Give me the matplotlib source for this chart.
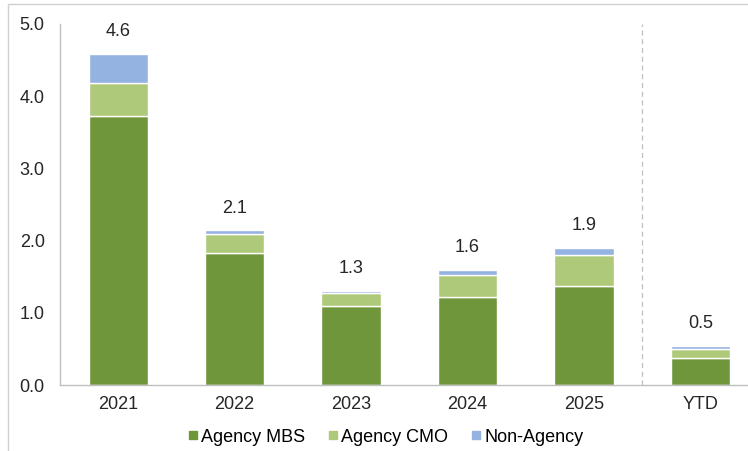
import numpy as np
import matplotlib.pyplot as plt
from matplotlib.lines import Line2D
from matplotlib.patches import Rectangle

# data
categories = ["2021", "2022", "2023", "2024", "2025", "YTD"]
agency_mbs = [3.72, 1.83, 1.09, 1.22, 1.37, 0.37]
agency_cmo = [0.46, 0.26, 0.18, 0.30, 0.43, 0.13]
non_agency = [0.40, 0.05, 0.03, 0.07, 0.10, 0.04]
total_labels = ["4.6", "2.1", "1.3", "1.6", "1.9", "0.5"]

series_names = ["Agency MBS", "Agency CMO", "Non-Agency"]
colours = ["#70963C", "#AFC97A", "#95B3E0"]

plt.rcParams['font.family'] = ['Liberation Sans', 'DejaVu Sans']
fs = 13

fig = plt.figure(figsize=(7.48, 4.51), dpi=100)
ax = fig.add_axes([0.0802, 0.1463, 0.9198, 0.8005])

x = np.arange(len(categories))
bottom = np.zeros(len(categories))
for vals, col in zip([agency_mbs, agency_cmo, non_agency], colours):
    ax.bar(x, vals, width=0.51, bottom=bottom, color=col,
           edgecolor='white', linewidth=1.0, zorder=2)
    bottom += np.array(vals)

for xi, top, lab in zip(x, bottom, total_labels):
    ax.annotate(lab, (xi, top), xytext=(0, 10), textcoords='offset points',
                ha='center', va='bottom', fontsize=fs, color='#262626')

# dashed separator before YTD
ax.axvline(4.5, color='#BFBFBF', linestyle=(0, (4, 3)), linewidth=0.9, zorder=1)

ax.set_xlim(-0.5, 5.41)
ax.set_ylim(0, 5.0)
ax.set_yticks(np.arange(0, 5.01, 1.0))
ax.set_yticklabels(["{:.1f}".format(v) for v in np.arange(0, 5.01, 1.0)])
ax.set_xticks(x)
ax.set_xticklabels(categories)
ax.tick_params(axis='both', length=0, colors='#262626', labelsize=fs)
ax.tick_params(axis='y', pad=11)
ax.tick_params(axis='x', pad=8)

for side in ['top', 'right']:
    ax.spines[side].set_visible(False)
for side in ['left', 'bottom']:
    ax.spines[side].set_color('#BFBFBF')
    ax.spines[side].set_linewidth(1.0)

# legend
handles = [Line2D([], [], marker='s', linestyle='none', markersize=6,
                  markerfacecolor=c, markeredgecolor=c) for c in colours]
fig.legend(handles, series_names, loc='center', bbox_to_anchor=(0.515, 0.031),
           ncol=3, frameon=False, handletextpad=0.1, columnspacing=1.2,
           fontsize=fs, handlelength=0.7)

# outer chart border (top and left visible)
fig.patches.append(Rectangle((8 / 748, -0.1), 1.1, 1.1 - 4 / 451,
                             transform=fig.transFigure, fill=False,
                             edgecolor='#D0D0D0', linewidth=1.0, zorder=0))

fig.savefig('out.png', dpi=100, facecolor='white')
